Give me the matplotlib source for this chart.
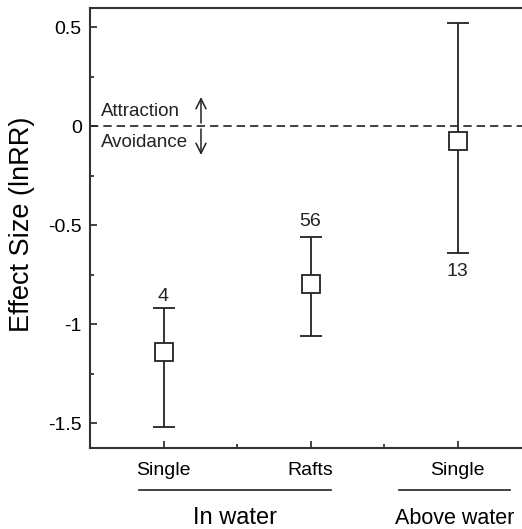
import matplotlib
matplotlib.use("Agg")
import matplotlib.pyplot as plt
from matplotlib.transforms import blended_transform_factory
from matplotlib.ticker import MultipleLocator

plt.rcParams['font.family'] = ['Liberation Sans', 'DejaVu Sans']

# Data
categories = ["Single", "Rafts", "Single"]
means = [-1.14, -0.80, -0.075]
upper = [-0.92, -0.56, 0.52]
lower = [-1.52, -1.06, -0.64]
sample_sizes = ["4", "56", "13"]
label_y = [-0.86, -0.48, -0.735]
groups = ["In water", "Above water"]

x = [1, 2, 3]
col = '#222222'

fig = plt.figure(figsize=(5.22, 5.29), dpi=100)
ax = fig.add_axes([90/522, 1-448/529, 441/522, 440/529])

yerr = [[m - l for m, l in zip(means, lower)], [u - m for m, u in zip(means, upper)]]
ax.errorbar(x, means, yerr=yerr, fmt='s', color=col, ecolor=col, elinewidth=1.3,
            capsize=8, capthick=1.3, markersize=13, markerfacecolor='white',
            markeredgecolor=col, markeredgewidth=1.3, zorder=3)

for xi, lab, ly in zip(x, sample_sizes, label_y):
    ax.text(xi, ly, lab, ha='center', va='center', fontsize=14, color=col)

ax.axhline(0, color=col, lw=1.2, ls=(0, (5, 3)), zorder=1)

ax.text(1.112, 0.071, "Attraction", ha='right', va='center', fontsize=13.5, color=col)
ax.text(1.167, -0.081, "Avoidance", ha='right', va='center', fontsize=13.5, color=col)
ax.annotate("", xy=(1.255, 0.146), xytext=(1.255, 0.015),
            arrowprops=dict(arrowstyle='->', color=col, lw=1.1, shrinkA=0, shrinkB=0,
                            mutation_scale=18))
ax.annotate("", xy=(1.255, -0.146), xytext=(1.255, -0.015),
            arrowprops=dict(arrowstyle='->', color=col, lw=1.1, shrinkA=0, shrinkB=0,
                            mutation_scale=18))

ax.set_xlim(0.5, 3.5)
ax.set_ylim(-1.626, 0.596)
ax.set_xticks(x)
ax.set_xticklabels(categories)
ax.xaxis.set_minor_locator(MultipleLocator(0.5))
ax.set_yticks([-1.5, -1, -0.5, 0, 0.5])
ax.set_yticklabels(["-1.5", "-1", "-0.5", "0", "0.5"])
ax.yaxis.set_minor_locator(MultipleLocator(0.25))
ax.tick_params(axis='both', which='major', direction='in', length=5, width=1.2,
               labelsize=14, colors=col, labelcolor='black')
ax.tick_params(axis='x', which='major', pad=10)
ax.tick_params(axis='y', which='major', pad=6)
ax.tick_params(axis='both', which='minor', direction='in', length=3, width=1.2, colors=col)
for s in ax.spines.values():
    s.set_color('#333333')
    s.set_linewidth(1.5)

fig.text(22/522, 1-224/529, "Effect Size (lnRR)", rotation=90, ha='center', va='center',
         fontsize=19.5, color='black')

tr = blended_transform_factory(ax.transData, fig.transFigure)
ax.plot([0.833, 2.14], [1-490/529]*2, color=col, lw=1.2, transform=tr, clip_on=False)
ax.plot([2.60, 3.36], [1-490/529]*2, color=col, lw=1.2, transform=tr, clip_on=False)
ax.text(1.486, 1-518/529, groups[0], transform=tr, ha='center', va='center', fontsize=17, color='black')
ax.text(2.98, 1-518/529, groups[1], transform=tr, ha='center', va='center', fontsize=15.5, color='black')

fig.savefig("out.png", dpi=100)
